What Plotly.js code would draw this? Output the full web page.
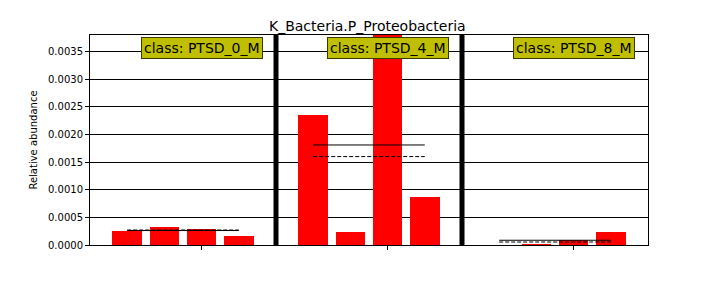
<!DOCTYPE html>
<html>
<head>
<meta charset="utf-8">
<script src="https://cdn.plot.ly/plotly-3.0.1.min.js"></script>
<style>html,body{margin:0;padding:0;background:#fff;}#chart{width:720px;height:288px;}</style>
</head>
<body>
<div id="chart"></div>
<script>
// Data
const classes = ["PTSD_0_M", "PTSD_4_M", "PTSD_8_M"];
const samplePos = [[0, 1, 2, 3], [5, 6, 7, 8], [10, 11, 12, 13]];
const values = [
  [0.000253, 0.000325, 0.000289, 0.000162],
  [0.002345, 0.000235, 0.00380, 0.000866],
  [0.000002, 0.000018, 0.000095, 0.000235]
];
const means = [0.000262, 0.00181, 0.000086];
const medians = [0.000271, 0.00160, 0.000054];
const separators = [4, 9];
const labelPos = [2, 7, 12];

const traces = [];
const bx = [], by = [];
for (let g = 0; g < classes.length; g++) {
  for (let i = 0; i < samplePos[g].length; i++) {
    bx.push(samplePos[g][i]);
    by.push(values[g][i]);
  }
}
traces.push({type: 'bar', x: bx, y: by, width: 0.8, marker: {color: '#ff0000', line: {width: 0}}, hoverinfo: 'skip', showlegend: false});

for (let g = 0; g < classes.length; g++) {
  const p = samplePos[g];
  const x0 = p[0], x1 = p[p.length - 1];
  traces.push({type: 'scatter', mode: 'lines', x: [x0, x1], y: [means[g], means[g]], line: {color: '#000', width: 1}, showlegend: false, hoverinfo: 'skip'});
  traces.push({type: 'scatter', mode: 'lines', x: [x0, x1], y: [medians[g], medians[g]], line: {color: '#000', width: 1, dash: '4px,2px'}, showlegend: false, hoverinfo: 'skip'});
}

const shapes = separators.map(s => ({type: 'line', xref: 'x', yref: 'paper', x0: s, x1: s, y0: 0, y1: 1, line: {color: '#000', width: 5}, layer: 'above'}));

const annotations = classes.map((c, i) => ({
  xref: 'x', yref: 'paper', x: labelPos[i], y: 0.99, yanchor: 'top', xanchor: 'center',
  text: 'class: ' + c, showarrow: false,
  font: {family: 'DejaVu Sans', size: 14, color: '#000'},
  bgcolor: '#bfbf00', bordercolor: '#3a3a00', borderwidth: 1, borderpad: 2
}));

const layout = {
  width: 720, height: 288,
  margin: {l: 90, r: 72, t: 35, b: 43},
  paper_bgcolor: '#fff', plot_bgcolor: '#fff',
  title: {text: 'K_Bacteria.P_Proteobacteria', font: {family: 'DejaVu Sans', size: 14, color: '#000'}, x: 0.497, xanchor: 'center', yref: 'container', y: 0.91, yanchor: 'middle', xref: 'paper'},
  xaxis: {range: [-1, 14], tickvals: labelPos, ticktext: ['', '', ''], ticks: 'outside', ticklen: 4, tickcolor: '#000', showgrid: false, zeroline: false, showline: true, linecolor: '#000', linewidth: 1, mirror: true, fixedrange: true},
  yaxis: {range: [0, 0.0038], dtick: 0.0005, tick0: 0, tickformat: '.4f', ticks: 'outside', ticklen: 4, tickcolor: '#000',
    showgrid: true, gridcolor: '#000', gridwidth: 1, zeroline: false, showline: true, linecolor: '#000', linewidth: 1, mirror: true,
    tickfont: {family: 'DejaVu Sans', size: 10, color: '#000'},
    title: {text: 'Relative abundance', font: {family: 'DejaVu Sans', size: 10, color: '#000'}, standoff: 8}},
  shapes: shapes,
  annotations: annotations,
  bargap: 0
};

Plotly.newPlot('chart', traces, layout, {displayModeBar: false, staticPlot: true});
</script>
</body>
</html>
